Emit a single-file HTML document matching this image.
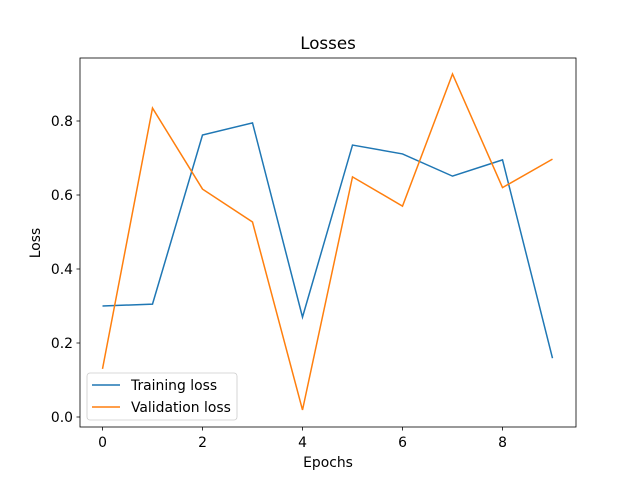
<!DOCTYPE html>
<html><head><meta charset="utf-8"><style>
body{margin:0;background:#fff;}
svg text{font-family:"DejaVu Sans","Liberation Sans",sans-serif;fill:#000;}
</style></head><body>
<svg id="chart" width="640" height="480" xmlns="http://www.w3.org/2000/svg">
<rect width="640" height="480" fill="#fff"/>
<text x="328" y="49" font-size="16.7" text-anchor="middle">Losses</text>
<g id="ticks"></g>
<g id="lines"></g>
<rect x="80" y="58" width="496" height="369" fill="none" stroke="#000" stroke-width="0.8"/>
<text x="328" y="467" font-size="13.9" text-anchor="middle">Epochs</text>
<text transform="translate(40,243) rotate(-90)" font-size="13.9" text-anchor="middle">Loss</text>
<g>
<rect x="87" y="373" width="150" height="47" rx="3" fill="#fff" fill-opacity="0.8" stroke="#ccc" stroke-width="0.8"/>
<line x1="92" y1="385" x2="120" y2="385" stroke="#1f77b4" stroke-width="1.5"/>
<text x="131" y="390" font-size="13.9">Training loss</text>
<line x1="92" y1="407" x2="120" y2="407" stroke="#ff7f0e" stroke-width="1.5"/>
<text x="131" y="412" font-size="13.9">Validation loss</text>
</g>
</svg>
<script>
const epochs=[0,1,2,3,4,5,6,7,8,9];
const trainingLoss=[0.300,0.305,0.762,0.795,0.270,0.735,0.711,0.651,0.695,0.159];
const validationLoss=[0.130,0.835,0.616,0.527,0.019,0.649,0.570,0.927,0.620,0.697];
const xTicks=[0,2,4,6,8];
const yTicks=[0.0,0.2,0.4,0.6,0.8];
const NS="http://www.w3.org/2000/svg";
function xs(v){return 102.5+v*50;}
function ys(v){return 417-v*370;}
const tg=document.getElementById('ticks');
xTicks.forEach(t=>{
 const l=document.createElementNS(NS,'line');
 l.setAttribute('x1',xs(t));l.setAttribute('x2',xs(t));l.setAttribute('y1',427);l.setAttribute('y2',430.5);l.setAttribute('stroke','#000');l.setAttribute('stroke-width','0.8');
 
 
 tg.appendChild(l);
 const tx=document.createElementNS(NS,'text');
 tx.setAttribute('x',xs(t));tx.setAttribute('y',447);tx.setAttribute('font-size','13.9');tx.setAttribute('text-anchor','middle');tx.textContent=t;
 
 
 tg.appendChild(tx);
});
yTicks.forEach(t=>{
 const l=document.createElementNS(NS,'line');
 l.setAttribute('x1',76.5);l.setAttribute('x2',80);l.setAttribute('y1',ys(t));l.setAttribute('y2',ys(t));l.setAttribute('stroke','#000');l.setAttribute('stroke-width','0.8');
 
 
 tg.appendChild(l);
 const tx=document.createElementNS(NS,'text');
 tx.setAttribute('x',73);tx.setAttribute('y',ys(t)+5);tx.setAttribute('font-size','13.9');tx.setAttribute('text-anchor','end');tx.textContent=t.toFixed(1);
 
 
 tg.appendChild(tx);
});
const lg=document.getElementById('lines');
function addLine(vals,color,name){
 const p=document.createElementNS(NS,'polyline');
 p.setAttribute('points',vals.map((v,i)=>xs(epochs[i])+','+ys(v)).join(' '));
 p.setAttribute('fill','none');p.setAttribute('stroke',color);p.setAttribute('stroke-width','1.5');
 
 
 lg.appendChild(p);
}
addLine(trainingLoss,'#1f77b4','training-loss-line');
addLine(validationLoss,'#ff7f0e','validation-loss-line');
</script>
</body></html>
